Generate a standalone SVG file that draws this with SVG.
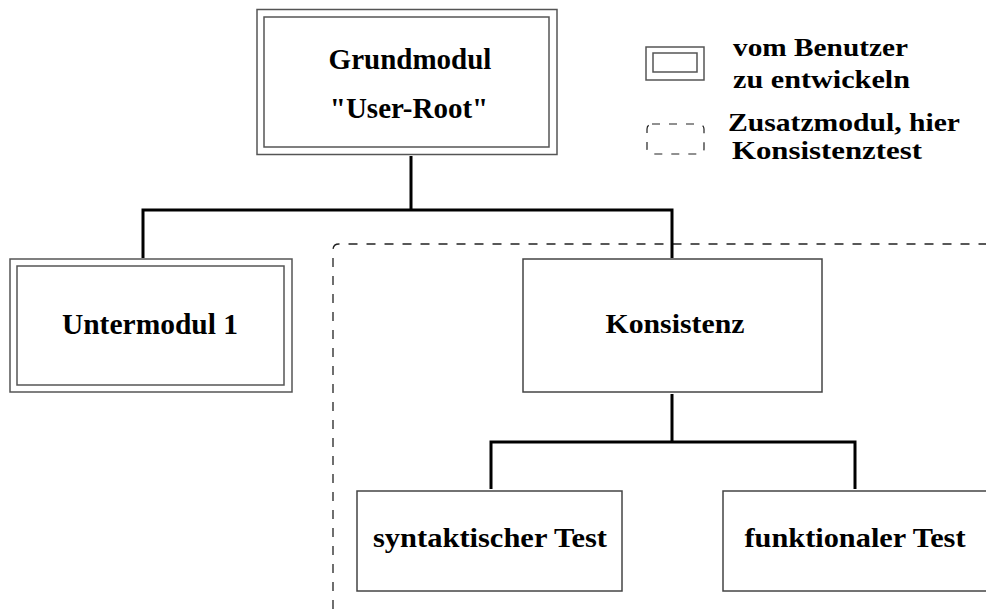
<svg xmlns="http://www.w3.org/2000/svg" width="986" height="609" viewBox="0 0 986 609">
  <style>
    .frame { fill: none; stroke: #555; stroke-width: 1.5; }
    .box { fill: #fff; stroke: #444; stroke-width: 1.5; }
    .dash { fill: none; stroke: #222; stroke-width: 1.3; stroke-dasharray: 9 9; }
    .wire { fill: none; stroke: #000; stroke-width: 3; stroke-linecap: butt; }
    .lbl { font-family: 'Liberation Serif', serif; font-weight: 700; fill: #000; }
    .mid { text-anchor: middle; }
  </style>

  <rect width="986" height="609" fill="#fff"/>

  <!-- optional-module area -->
  <g id="zusatz-bereich">
    <path class="dash" d="M333 609 V250 Q333 244 339 244 H986"/>
  </g>

  <!-- connectors -->
  <g id="connectors">
    <path class="wire" d="M411 156 V210 M143 258 V210 H672 V258"/>
    <path class="wire" d="M672 394 V442 M491 489 V442 H855 V489"/>
  </g>

  <!-- Grundmodul -->
  <g id="grundmodul">
    <rect class="frame" x="257" y="9.5" width="300" height="145" fill="#fff"/>
    <rect class="frame" x="264" y="17" width="285" height="130"/>
    <text class="lbl mid" x="410" y="69" font-size="29">Grundmodul</text>
    <text class="lbl mid" x="409" y="118" font-size="29">"User-Root"</text>
  </g>

  <!-- Untermodul 1 -->
  <g id="untermodul1">
    <rect class="frame" x="10" y="259" width="282" height="133" fill="#fff"/>
    <rect class="frame" x="17" y="266" width="267" height="119"/>
    <text class="lbl mid" x="150" y="334" font-size="29.5">Untermodul 1</text>
  </g>

  <!-- Konsistenz -->
  <g id="konsistenz">
    <rect class="box" x="523" y="259" width="299" height="133"/>
    <text class="lbl mid" x="675" y="333" font-size="28" textLength="139" lengthAdjust="spacingAndGlyphs">Konsistenz</text>
  </g>

  <!-- syntaktischer Test -->
  <g id="syntaktischer-test">
    <rect class="box" x="357" y="491" width="265" height="100"/>
    <text class="lbl mid" x="490" y="547" font-size="28" textLength="234" lengthAdjust="spacingAndGlyphs">syntaktischer Test</text>
  </g>

  <!-- funktionaler Test -->
  <g id="funktionaler-test">
    <rect class="box" x="723" y="491" width="270" height="100"/>
    <text class="lbl mid" x="855" y="547" font-size="28" textLength="221" lengthAdjust="spacingAndGlyphs">funktionaler Test</text>
  </g>

  <!-- legend -->
  <g id="legende">
    <rect class="frame" x="646" y="47" width="58" height="33"/>
    <rect class="frame" x="653" y="53" width="44" height="19"/>
    <text class="lbl" x="733" y="56" font-size="26" textLength="175" lengthAdjust="spacingAndGlyphs">vom Benutzer</text>
    <text class="lbl" x="733" y="88" font-size="26" textLength="177" lengthAdjust="spacingAndGlyphs">zu entwickeln</text>
    <rect x="647" y="124" width="57" height="30" rx="5" fill="none" stroke="#222" stroke-width="1.2" stroke-dasharray="8 9"/>
    <text class="lbl" x="728" y="131" font-size="26" textLength="232" lengthAdjust="spacingAndGlyphs">Zusatzmodul, hier</text>
    <text class="lbl" x="732" y="159" font-size="26" textLength="190" lengthAdjust="spacingAndGlyphs">Konsistenztest</text>
  </g>
</svg>
